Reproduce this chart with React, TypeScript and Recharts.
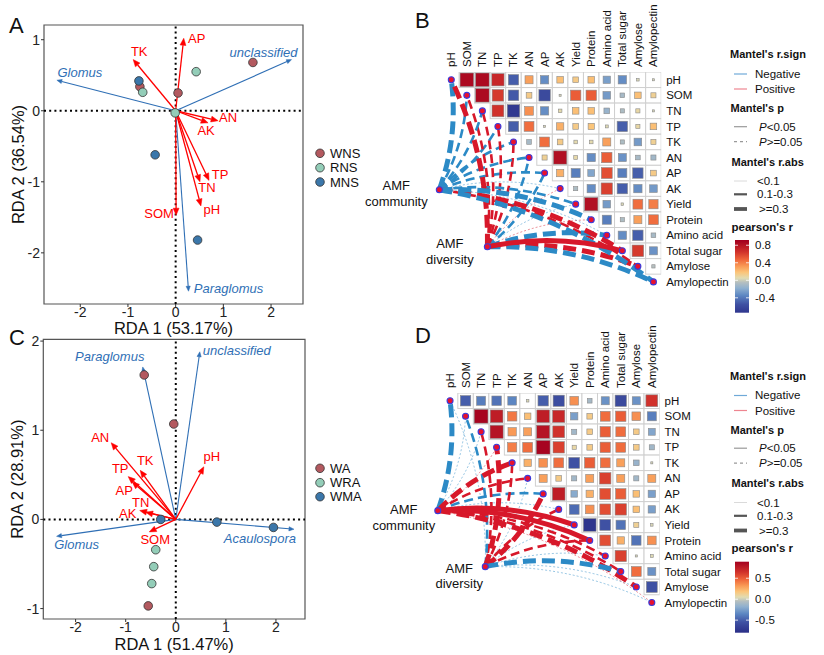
import React from "react";
import { ScatterChart, Scatter, XAxis, YAxis, ReferenceLine, ReferenceArea } from "recharts";

const FONT = "'Liberation Sans', Arial, Helvetica, sans-serif";

// ---------------- Panel A : RDA (NS samples)
const A_WNS = [{ x: 1.62, y: 0.68 }, { x: 0.05, y: 0.25 }, { x: -0.75, y: 0.34 }];
const A_RNS = [{ x: 0.43, y: 0.55 }, { x: -0.69, y: 0.26 }, { x: -0.01, y: -0.03 }];
const A_MNS = [{ x: -0.77, y: 0.42 }, { x: -0.43, y: -0.62 }, { x: 0.46, y: -1.82 }];
const A_ENV = ["AP", "TK", "AN", "AK", "TP", "TN", "pH", "SOM"];
const A_ENV_X = [0.17, -0.89, 0.89, 0.68, 0.7, 0.51, 0.53, 0.01];
const A_ENV_Y = [1.02, 0.72, -0.14, -0.17, -0.98, -1.0, -1.34, -1.47];
const A_TAXA = ["Glomus", "unclassified", "Paraglomus"];
const A_TAXA_X = [-2.49, 2.43, 0.27];
const A_TAXA_Y = [0.43, 0.72, -2.54];

// ---------------- Panel C : RDA (A samples)
const C_WA = [{ x: -0.63, y: 1.62 }, { x: -0.04, y: 1.07 }, { x: -0.55, y: -0.97 }];
const C_WRA = [{ x: -0.4, y: -0.34 }, { x: -0.44, y: -0.53 }, { x: -0.48, y: -0.72 }];
const C_WMA = [{ x: -0.3, y: 0.0 }, { x: 0.82, y: -0.03 }, { x: 1.95, y: -0.09 }];
const C_ENV = ["AN", "TK", "TP", "AP", "TN", "AK", "pH", "SOM"];
const C_ENV_X = [-1.29, -0.71, -0.95, -0.87, -0.6, -0.72, 0.56, -0.53];
const C_ENV_Y = [0.86, 0.55, 0.48, 0.42, 0.08, 0.1, 0.59, -0.14];
const C_TAXA = ["Paraglomus", "unclassified", "Glomus", "Acaulospora"];
const C_TAXA_X = [-0.66, 0.48, -2.38, 2.36];
const C_TAXA_Y = [1.71, 1.88, -0.19, -0.11];

// ---------------- Mantel panels
const VARS = ["pH", "SOM", "TN", "TP", "TK", "AN", "AP", "AK", "Yield", "Protein", "Amino acid", "Total sugar", "Amylose", "Amylopectin"];
const AMF = ["AMF community", "AMF diversity"];

// pearson's r, upper triangle, row i holds columns i+1..13
const B_R = [
  [0.85, 0.85, 0.7, -0.5, 0.3, -0.32, 0.2, 0.15, 0.2, -0.25, -0.32, 0.03, 0.02],
  [0.85, 0.62, -0.52, 0.15, -0.6, 0.02, 0.5, 0.5, -0.27, -0.1, 0.2, 0.12],
  [0.65, -0.72, 0.35, -0.32, 0.06, 0.2, 0.2, -0.15, -0.08, 0.08, 0.02],
  [-0.5, 0.45, 0.02, 0.25, 0.15, 0.18, 0.04, -0.5, 0.08, 0.2],
  [-0.1, 0.45, 0.15, 0.06, 0.06, 0.3, -0.08, -0.27, 0.12],
  [0.12, 0.82, 0.07, -0.32, 0.5, -0.3, -0.1, -0.12],
  [0.25, -0.38, -0.22, 0.55, -0.38, -0.5, 0.15],
  [-0.08, -0.32, 0.6, -0.5, -0.32, -0.27],
  [0.82, -0.27, 0.03, 0.45, 0.4],
  [-0.38, -0.08, 0.3, 0.45],
  [-0.32, -0.5, -0.1],
  [0.62, -0.3],
  [-0.05],
];
const D_R = [
  [-0.5, -0.38, -0.42, -0.35, 0.03, -0.5, -0.58, 0.35, -0.1, -0.3, -0.6, -0.3, 0.65],
  [0.88, 0.75, 0.42, 0.2, 0.75, 0.7, -0.25, 0.15, 0.45, 0.5, 0.35, -0.38],
  [0.8, 0.32, 0.3, 0.8, 0.65, -0.12, 0.15, 0.5, 0.45, 0.15, -0.22],
  [0.4, 0.45, 0.88, 0.6, 0.08, 0.15, 0.5, 0.45, 0.15, -0.12],
  [0.25, 0.35, 0.45, -0.55, 0.5, 0.45, 0.3, -0.15, 0.02],
  [0.3, 0.15, -0.12, 0.3, 0.6, 0.3, -0.12, 0.3],
  [0.75, -0.2, 0.25, 0.55, 0.5, 0.2, -0.25],
  [-0.45, 0.35, 0.55, 0.6, 0.2, -0.25],
  [-0.75, -0.55, -0.42, 0.12, 0.03],
  [0.55, 0.25, -0.42, 0.35],
  [0.6, 0.02, 0.04],
  [0.45, -0.3],
  [-0.55],
];

// Mantel r and p, one value per variable in VARS order
const B_COMM_R = [-0.32, -0.2, -0.2, -0.18, -0.15, -0.2, -0.15, -0.05, -0.2, -0.35, -0.05, 0.33, 0.2, -0.33];
const B_COMM_P = [0.2, 0.3, 0.3, 0.3, 0.3, 0.3, 0.3, 0.6, 0.3, 0.2, 0.6, 0.2, 0.3, 0.2];
const B_DIV_R = [0.32, 0.2, 0.2, 0.2, 0.2, -0.15, -0.15, 0.05, -0.05, 0.05, -0.32, 0.4, 0.32, -0.33];
const B_DIV_P = [0.2, 0.3, 0.3, 0.3, 0.3, 0.3, 0.3, 0.6, 0.6, 0.6, 0.2, 0.01, 0.2, 0.2];
const D_COMM_R = [-0.32, -0.05, -0.05, 0.05, 0.35, 0.2, -0.15, -0.05, 0.45, 0.45, 0.2, 0.2, 0.32, 0.05];
const D_COMM_P = [0.2, 0.5, 0.5, 0.5, 0.2, 0.2, 0.2, 0.5, 0.01, 0.01, 0.2, 0.2, 0.2, 0.5];
const D_DIV_R = [-0.05, -0.25, 0.2, 0.32, 0.2, -0.05, 0.35, 0.2, -0.05, 0.2, -0.05, -0.35, -0.05, -0.05];
const D_DIV_P = [0.5, 0.3, 0.3, 0.2, 0.3, 0.5, 0.2, 0.3, 0.5, 0.3, 0.5, 0.2, 0.5, 0.5];

// node positions of the two AMF endpoints (cell units)
const B_AMF_X = [-0.77, 2.32];
const B_AMF_Y = [7.07, 10.74];
const D_AMF_X = [-0.79, 2.27];
const D_AMF_Y = [7.08, 10.69];

// ---------------- styles
const A_OFFSETS: Record<string, [number, number]> = {
  AP: [13, 0], TK: [6, -8], AN: [10, -3], AK: [-2, 8], TP: [11, -6], TN: [7, 6], pH: [11, 4], SOM: [-17, -2],
  Glomus: [23, -8], unclassified: [-28, -7], Paraglomus: [40, -3],
};
const C_OFFSETS: Record<string, [number, number]> = {
  AN: [-11, -5], TK: [5, -10], TP: [-8, -8], AP: [-8, 9], TN: [-5, -10], AK: [-12, 3], pH: [8, -10], SOM: [6, 8],
  Paraglomus: [-33, -10], unclassified: [37, -1], Glomus: [20, 8], Acaulospora: [-34, 9],
};
const B_AMF_LABEL = [{ dx: -43, dy: [-4, 12] }, { dx: -37.5, dy: [-3.5, 13] }];
const D_AMF_LABEL = [{ dx: -34, dy: [-1.5, 14.5] }, { dx: -26, dy: [1.5, 16.5] }];

const ENV_RED = "#ff0000";
const TAXA_BLUE = "#2f6fb5";
const COL_NS = { W: "#b3595f", R: "#93cdb8", M: "#3b77aa" };

const COLOR_STOPS: [number, string][] = [
  [-0.8, "#2a2e87"],
  [-0.55, "#3f51a3"],
  [-0.35, "#5c86c2"],
  [-0.18, "#8fb0cf"],
  [-0.05, "#b5bfc0"],
  [0.05, "#e2dcb2"],
  [0.18, "#fbc57a"],
  [0.32, "#f99a56"],
  [0.48, "#ee6339"],
  [0.65, "#d0312b"],
  [0.9, "#a3001f"],
];

function hexRgb(h: string) {
  const n = parseInt(h.slice(1), 16);
  return [(n >> 16) & 255, (n >> 8) & 255, n & 255];
}
function colorOf(r: number) {
  const s = COLOR_STOPS;
  if (r <= s[0][0]) return s[0][1];
  if (r >= s[s.length - 1][0]) return s[s.length - 1][1];
  for (let k = 0; k < s.length - 1; k++) {
    const [a, ca] = s[k];
    const [b, cb] = s[k + 1];
    if (r >= a && r <= b) {
      const t = (r - a) / (b - a);
      const A = hexRgb(ca);
      const B = hexRgb(cb);
      const c = A.map((v, i) => Math.round(v + (B[i] - v) * t));
      return `rgb(${c[0]},${c[1]},${c[2]})`;
    }
  }
  return "#ccc";
}

// ---------------- RDA biplot
function arrowShape(color: string, width: number, head: number, label: string, off: [number, number], italic: boolean) {
  return (p: any) => {
    const { x1, y1, x2, y2 } = p;
    const ang = Math.atan2(y2 - y1, x2 - x1);
    const c = Math.cos(ang);
    const s = Math.sin(ang);
    const hx = x2 - head * c;
    const hy = y2 - head * s;
    const hw = head * 0.42;
    const pts = `${x2},${y2} ${hx - s * hw},${hy + c * hw} ${hx + s * hw},${hy - c * hw}`;
    return (
      <g>
        <line x1={x1} y1={y1} x2={hx} y2={hy} stroke={color} strokeWidth={width} />
        <polygon points={pts} fill={color} stroke={color} strokeWidth={0.5} />
        <text
          x={x2 + off[0]}
          y={y2 + off[1]}
          fill={color}
          fontSize={13}
          fontStyle={italic ? "italic" : "normal"}
          fontFamily={FONT}
          textAnchor="middle"
          dominantBaseline="central"
        >
          {label}
        </text>
      </g>
    );
  };
}

type RdaProps = {
  left: number;
  top: number;
  width: number;
  height: number;
  marginTop: number;
  yAxisWidth: number;
  xAxisHeight: number;
  xDomain: [number, number];
  yDomain: [number, number];
  yTicks: number[];
  xTitle: string;
  yTitle: string;
  xTitleOffset: number;
  yTitleOffset: number;
  xTickMargin: number;
  groups: { color: string; data: { x: number; y: number }[] }[];
  env: string[];
  envX: number[];
  envY: number[];
  taxa: string[];
  taxaX: number[];
  taxaY: number[];
  offsets: Record<string, [number, number]>;
};

function RdaPanel(p: RdaProps) {
  const tickStyle = { fontSize: 14, fill: "#222", fontFamily: FONT };
  return (
    <div style={{ position: "absolute", left: p.left, top: p.top }}>
      <ScatterChart width={p.width} height={p.height} margin={{ top: p.marginTop, right: 5, bottom: 0, left: 0 }}>
        <XAxis
          type="number"
          dataKey="x"
          domain={p.xDomain}
          allowDataOverflow
          ticks={[-2, -1, 0, 1, 2]}
          interval={0}
          height={p.xAxisHeight}
          axisLine={false}
          tickLine={{ stroke: "#333" }}
          tickSize={3}
          tickMargin={p.xTickMargin}
          tick={tickStyle}
          label={{ value: p.xTitle, position: "insideBottom", offset: p.xTitleOffset, style: { fontSize: 16.5, fill: "#111", fontFamily: FONT } }}
        />
        <YAxis
          type="number"
          dataKey="y"
          domain={p.yDomain}
          allowDataOverflow
          ticks={p.yTicks}
          interval={0}
          width={p.yAxisWidth}
          axisLine={false}
          tickLine={{ stroke: "#333" }}
          tickSize={3}
          tickMargin={1}
          tick={tickStyle}
          label={{ value: p.yTitle, angle: -90, position: "insideLeft", offset: p.yTitleOffset, style: { fontSize: 16.5, fill: "#111", fontFamily: FONT, textAnchor: "middle" } }}
        />
        <ReferenceArea x1={p.xDomain[0]} x2={p.xDomain[1]} y1={p.yDomain[0]} y2={p.yDomain[1]} fill="none" fillOpacity={0} stroke="#555" strokeWidth={1.2} ifOverflow="visible" />
        <ReferenceLine x={0} stroke="#000" strokeWidth={2} strokeDasharray="2 3.2" />
        <ReferenceLine y={0} stroke="#000" strokeWidth={2} strokeDasharray="2 3.2" />
        {p.groups.map((g, gi) => (
          <Scatter
            key={"g" + gi}
            data={g.data}
            isAnimationActive={false}
            shape={(q: any) => <circle cx={q.cx} cy={q.cy} r={4.3} fill={g.color} stroke="#333" strokeWidth={0.8} />}
          />
        ))}
        {p.taxa.map((t, i) => (
          <ReferenceLine
            key={"t" + t}
            segment={[{ x: 0, y: 0 }, { x: p.taxaX[i], y: p.taxaY[i] }]}
            ifOverflow="visible"
            shape={arrowShape(TAXA_BLUE, 1.1, 5, t, p.offsets[t], true)}
          />
        ))}
        {p.env.map((e, i) => (
          <ReferenceLine
            key={"e" + e}
            segment={[{ x: 0, y: 0 }, { x: p.envX[i], y: p.envY[i] }]}
            ifOverflow="visible"
            shape={arrowShape(ENV_RED, 1.3, 7, e, p.offsets[e], false)}
          />
        ))}
      </ScatterChart>
    </div>
  );
}

// ---------------- Mantel heatmap
const MX_MIN = -7.8;
const MX_MAX = 13.5;
const MY_MIN = -0.5;
const MY_MAX = 14.5;
const M_XAXIS_H = 72;
const M_YAXIS_W = 80;
const M_LEFT = 10;
const M_BOTTOM = 10;
const IDX = VARS.map((_, i) => i);

function linkShape(r: number, p: number) {
  const a = Math.abs(r);
  const w = a < 0.1 ? 0.7 : a < 0.3 ? 2.6 : 5;
  const dash = p < 0.05 ? undefined : a < 0.1 ? "2 2" : a < 0.3 ? "9 5" : "13 6";
  const color = r < 0 ? "#2c8ac6" : "#d7182a";
  return (q: any) => {
    const { x1, y1, x2, y2 } = q;
    const dx = x2 - x1;
    const dy = y2 - y1;
    let nx = -dy;
    let ny = dx;
    if (nx - ny < 0) {
      nx = -nx;
      ny = -ny;
    }
    const k = 0.12;
    const qx = (x1 + x2) / 2 + nx * k;
    const qy = (y1 + y2) / 2 + ny * k;
    return (
      <path
        d={`M${x1},${y1}Q${qx},${qy} ${x2},${y2}`}
        fill="none"
        stroke={color}
        strokeWidth={w}
        strokeDasharray={dash}
        strokeOpacity={a < 0.1 ? 0.7 : 1}
      />
    );
  };
}

type MantelProps = {
  ox: number;
  oy: number;
  u: number;
  matrix: number[][];
  commR: number[];
  commP: number[];
  divR: number[];
  divP: number[];
  amfX: number[];
  amfY: number[];
  amfLabel: { dx: number; dy: number[] }[];
};

function MantelPanel(p: MantelProps) {
  const { u } = p;
  const left = p.ox + MX_MIN * u - M_LEFT;
  const top = p.oy + MY_MIN * u - M_XAXIS_H;
  const width = M_LEFT + (MX_MAX - MX_MIN) * u + M_YAXIS_W;
  const height = M_XAXIS_H + (MY_MAX - MY_MIN) * u + M_BOTTOM;

  const cells: { x: number; y: number; r: number }[] = [];
  p.matrix.forEach((row, i) => row.forEach((r, k) => cells.push({ x: i + 1 + k, y: i, r })));
  const nodes = [...IDX.map((i) => ({ x: i, y: i })), ...AMF.map((_, k) => ({ x: p.amfX[k], y: p.amfY[k] }))];
  const amfNodes = AMF.map((name, k) => ({ x: p.amfX[k], y: p.amfY[k], k, name }));

  const links: { k: number; i: number; r: number; pv: number }[] = [];
  IDX.forEach((i) => {
    links.push({ k: 0, i, r: p.commR[i], pv: p.commP[i] });
    links.push({ k: 1, i, r: p.divR[i], pv: p.divP[i] });
  });
  links.sort((a, b) => Math.abs(a.r) - Math.abs(b.r));

  const cellShape = (q: any) => {
    const r = q.payload.r;
    const inner = Math.min(u - 1.6, (u - 1.6) * Math.sqrt(Math.abs(r) / 0.9));
    return (
      <g>
        <rect x={q.cx - u / 2} y={q.cy - u / 2} width={u} height={u} fill="#fff" stroke="#cfcfcf" strokeWidth={1} />
        <rect x={q.cx - inner / 2} y={q.cy - inner / 2} width={inner} height={inner} fill={colorOf(r)} stroke="#8a8a8a" strokeWidth={0.6} />
      </g>
    );
  };

  const colTick = (q: any) => (
    <text
      x={q.x}
      y={q.y}
      transform={`rotate(-90 ${q.x} ${q.y})`}
      textAnchor="start"
      dominantBaseline="central"
      fontSize={11.5}
      fontFamily={FONT}
      fill="#111"
    >
      {VARS[q.payload.value]}
    </text>
  );

  const amfLabelShape = (q: any) => {
    const st = p.amfLabel[q.payload.k];
    const parts = ["AMF", q.payload.k === 0 ? "community" : "diversity"];
    return (
      <g>
        {parts.map((t, j) => (
          <text key={t} x={q.cx + st.dx} y={q.cy + st.dy[j]} textAnchor="middle" dominantBaseline="central" fontSize={13} fontFamily={FONT} fill="#111">
            {t}
          </text>
        ))}
      </g>
    );
  };

  return (
    <div style={{ position: "absolute", left, top }}>
      <ScatterChart width={width} height={height} margin={{ top: 0, right: 0, bottom: M_BOTTOM, left: M_LEFT }}>
        <XAxis
          type="number"
          dataKey="x"
          orientation="top"
          domain={[MX_MIN, MX_MAX]}
          allowDataOverflow
          ticks={IDX}
          interval={0}
          height={M_XAXIS_H}
          axisLine={false}
          tickLine={false}
          tickSize={0}
          tickMargin={5}
          tick={colTick}
        />
        <YAxis
          type="number"
          dataKey="y"
          orientation="right"
          reversed
          domain={[MY_MIN, MY_MAX]}
          allowDataOverflow
          ticks={IDX}
          interval={0}
          width={M_YAXIS_W}
          axisLine={false}
          tickLine={false}
          tickSize={0}
          tickMargin={5}
          tickFormatter={(v: number) => VARS[v]}
          tick={{ fontSize: 11.5, fill: "#111", fontFamily: FONT }}
        />
        {links.map((l) => (
          <ReferenceLine
            key={`l${l.k}-${l.i}`}
            segment={[{ x: p.amfX[l.k], y: p.amfY[l.k] }, { x: l.i, y: l.i }]}
            ifOverflow="visible"
            shape={linkShape(l.r, l.pv)}
          />
        ))}
        <Scatter data={cells} isAnimationActive={false} shape={cellShape} />
        <Scatter
          data={nodes}
          isAnimationActive={false}
          shape={(q: any) => <circle cx={q.cx} cy={q.cy} r={3} fill="#e8112d" stroke="#3b3bdb" strokeWidth={1.1} />}
        />
        <Scatter data={amfNodes} isAnimationActive={false} shape={amfLabelShape} />
      </ScatterChart>
    </div>
  );
}

// ---------------- legends
function MantelLegend({ y0, barTop, barBottom, range, ticks }: { y0: number; barTop: number; barBottom: number; range: [number, number]; ticks: number[] }) {
  const id = "grad" + Math.round(y0);
  const [lo, hi] = range;
  const yOf = (v: number) => barTop + ((hi - v) / (hi - lo)) * (barBottom - barTop);
  const stops = COLOR_STOPS.filter(([v]) => v > lo && v < hi);
  const title = { fontSize: 11, fontWeight: 700 as const, fontFamily: FONT, fill: "#111" };
  const txt = { fontSize: 11.5, fontFamily: FONT, fill: "#111" };
  return (
    <g>
      <defs>
        <linearGradient id={id} x1="0" y1="0" x2="0" y2="1">
          <stop offset="0" stopColor={colorOf(hi)} />
          {[...stops].reverse().map(([v, c]) => (
            <stop key={v} offset={(hi - v) / (hi - lo)} stopColor={c} />
          ))}
          <stop offset="1" stopColor={colorOf(lo)} />
        </linearGradient>
      </defs>
      <text x={730} y={y0 + 54} dominantBaseline="central" {...title}>Mantel's r.sign</text>
      <line x1={734} x2={747} y1={y0 + 74} y2={y0 + 74} stroke="#6fa9d8" strokeWidth={1.2} />
      <text x={755} y={y0 + 73.5} dominantBaseline="central" {...txt}>Negative</text>
      <line x1={734} x2={747} y1={y0 + 89} y2={y0 + 89} stroke="#ee8590" strokeWidth={1.2} />
      <text x={755} y={y0 + 89} dominantBaseline="central" {...txt}>Positive</text>
      <text x={730.5} y={y0 + 108} dominantBaseline="central" {...title}>Mantel's p</text>
      <line x1={734} x2={747} y1={y0 + 126.7} y2={y0 + 126.7} stroke="#999" strokeWidth={1.2} />
      <text x={759} y={y0 + 126.7} dominantBaseline="central" {...txt}><tspan fontStyle="italic">P</tspan>{"<0.05"}</text>
      <line x1={734} x2={747} y1={y0 + 141.7} y2={y0 + 141.7} stroke="#999" strokeWidth={1.2} strokeDasharray="3 3" />
      <text x={759} y={y0 + 141.7} dominantBaseline="central" {...txt}><tspan fontStyle="italic">P</tspan>{">=0.05"}</text>
      <text x={731.5} y={y0 + 161.7} dominantBaseline="central" {...title}>Mantel's r.abs</text>
      <line x1={734} x2={747} y1={y0 + 181} y2={y0 + 181} stroke="#d0d0d0" strokeWidth={0.8} />
      <text x={757} y={y0 + 181} dominantBaseline="central" {...txt}>{"<0.1"}</text>
      <line x1={734} x2={747} y1={y0 + 194.3} y2={y0 + 194.3} stroke="#555" strokeWidth={2.2} />
      <text x={757} y={y0 + 194.3} dominantBaseline="central" {...txt}>0.1-0.3</text>
      <line x1={734} x2={747} y1={y0 + 209} y2={y0 + 209} stroke="#555" strokeWidth={3.8} />
      <text x={759} y={y0 + 209} dominantBaseline="central" {...txt}>{">=0.3"}</text>
      <text x={731.5} y={y0 + 226.7} dominantBaseline="central" {...title} fontSize={11.5}>pearson's r</text>
      <rect x={735} y={barTop} width={14} height={barBottom - barTop} fill={`url(#${id})`} />
      {ticks.map((t) => (
        <g key={t}>
          <line x1={735} x2={738} y1={yOf(t)} y2={yOf(t)} stroke="#fff" strokeWidth={0.8} />
          <line x1={746} x2={749} y1={yOf(t)} y2={yOf(t)} stroke="#fff" strokeWidth={0.8} />
          <text x={755} y={yOf(t)} dominantBaseline="central" {...txt}>{t.toFixed(1)}</text>
        </g>
      ))}
    </g>
  );
}

function GroupLegend({ names, colors, ys }: { names: string[]; colors: string[]; ys: number[] }) {
  return (
    <g>
      {names.map((n, i) => (
        <g key={n}>
          <circle cx={320} cy={ys[i]} r={4.3} fill={colors[i]} stroke="#333" strokeWidth={0.8} />
          <text x={330} y={ys[i]} dominantBaseline="central" fontSize={13} fontFamily={FONT} fill="#111">{n}</text>
        </g>
      ))}
    </g>
  );
}

export default function App() {
  const letter = { fontSize: 22, fontFamily: FONT, fill: "#111" };
  return (
    <div style={{ position: "absolute", left: 0, top: 0, width: 824, height: 655, background: "#fff", fontFamily: FONT, overflow: "hidden" }}>
      <svg width={824} height={655} style={{ position: "absolute", left: 0, top: 0 }}>
        <text x={9} y={33} {...letter}>A</text>
        <text x={415} y={28} {...letter}>B</text>
        <text x={9} y={345} {...letter}>C</text>
        <text x={415} y={343} {...letter}>D</text>
        <GroupLegend names={["WNS", "RNS", "MNS"]} colors={[COL_NS.W, COL_NS.R, COL_NS.M]} ys={[153.3, 167.7, 182]} />
        <GroupLegend names={["WA", "WRA", "WMA"]} colors={[COL_NS.W, COL_NS.R, COL_NS.M]} ys={[468.3, 482.7, 496.7]} />
      </svg>

      <RdaPanel
        left={0}
        top={0}
        width={308}
        height={339}
        marginTop={25}
        yAxisWidth={44}
        xAxisHeight={35}
        xDomain={[-2.76, 2.67]}
        yDomain={[-2.72, 1.207]}
        yTicks={[-2, -1, 0, 1]}
        xTitle="RDA 1 (53.17%)"
        yTitle="RDA 2 (36.54%)"
        xTitleOffset={5}
        yTitleOffset={18}
        xTickMargin={0}
        groups={[{ color: COL_NS.W, data: A_WNS }, { color: COL_NS.R, data: A_RNS }, { color: COL_NS.M, data: A_MNS }]}
        env={A_ENV}
        envX={A_ENV_X}
        envY={A_ENV_Y}
        taxa={A_TAXA}
        taxaX={A_TAXA_X}
        taxaY={A_TAXA_Y}
        offsets={A_OFFSETS}
      />
      <RdaPanel
        left={0}
        top={300}
        width={310}
        height={354}
        marginTop={39.3}
        yAxisWidth={43.3}
        xAxisHeight={35}
        xDomain={[-2.645, 2.58]}
        yDomain={[-1.117, 2.02]}
        yTicks={[-1, 0, 1, 2]}
        xTitle="RDA 1 (51.47%)"
        yTitle="RDA 2 (28.91%)"
        xTitleOffset={4.5}
        yTitleOffset={17.5}
        xTickMargin={0}
        groups={[{ color: COL_NS.W, data: C_WA }, { color: COL_NS.R, data: C_WRA }, { color: COL_NS.M, data: C_WMA }]}
        env={C_ENV}
        envX={C_ENV_X}
        envY={C_ENV_Y}
        taxa={C_TAXA}
        taxaX={C_TAXA_X}
        taxaY={C_TAXA_Y}
        offsets={C_OFFSETS}
      />

      <MantelPanel ox={451} oy={80} u={15.55} matrix={B_R} commR={B_COMM_R} commP={B_COMM_P} divR={B_DIV_R} divP={B_DIV_P} amfX={B_AMF_X} amfY={B_AMF_Y} amfLabel={B_AMF_LABEL} />
      <MantelPanel ox={450} oy={401} u={15.52} matrix={D_R} commR={D_COMM_R} commP={D_COMM_P} divR={D_DIV_R} divP={D_DIV_P} amfX={D_AMF_X} amfY={D_AMF_Y} amfLabel={D_AMF_LABEL} />

      <svg width={824} height={655} style={{ position: "absolute", left: 0, top: 0, pointerEvents: "none" }}>
        <MantelLegend y0={0} barTop={240} barBottom={312.7} range={[-0.74, 0.92]} ticks={[0.8, 0.4, 0.0, -0.4]} />
        <MantelLegend y0={321.5} barTop={561.7} barBottom={632.7} range={[-0.8, 0.895]} ticks={[0.5, 0.0, -0.5]} />
      </svg>
    </div>
  );
}
